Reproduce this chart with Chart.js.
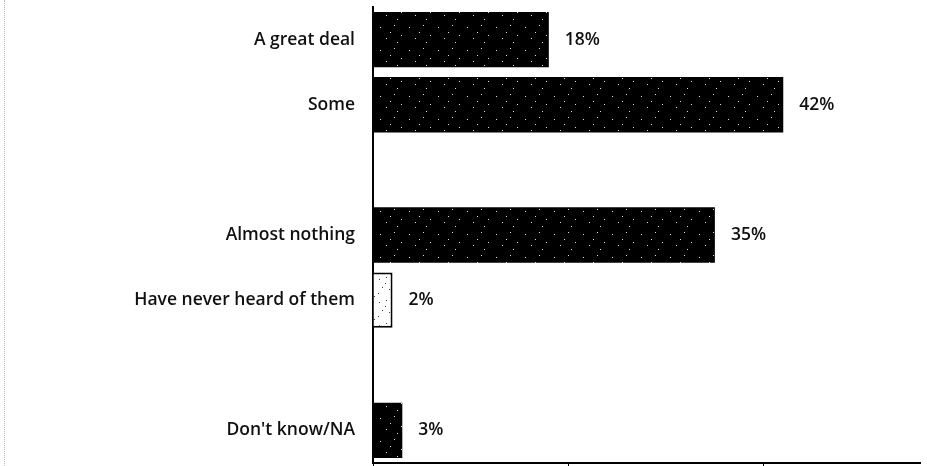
<!DOCTYPE html>
<html>
<head>
<meta charset="utf-8">
<script src="https://cdn.jsdelivr.net/npm/chart.js@4.4.1/dist/chart.umd.min.js"></script>
<style>
    html, body { margin: 0; padding: 0; background: #fff; }
    #wrap { position: relative; width: 927px; height: 466px; }
    #edge { position: absolute; left: 4px; top: 0; height: 466px; border-left: 1px dotted #bbb; }
    canvas { display: block; }
</style>
</head>
<body>
<div id="wrap">
    <div id="edge"></div>
    <canvas id="chartAwareness" width="927" height="466"></canvas>
</div>
<script>
// data (empty strings are the gaps between groups)
const categories = ['A great deal', 'Some', '', 'Almost nothing', 'Have never heard of them', '', "Don't know/NA"];
const values = [18, 42, null, 35, 2, null, 3];
const xTicks = [0, 20, 40];

document.addEventListener('DOMContentLoaded', function () {
    // speckled fill like the scanned bars
    function makeSpeckle(bg, dot, dots) {
        const c = document.createElement('canvas');
        c.width = 29; c.height = 23;
        const g = c.getContext('2d');
        g.fillStyle = bg;
        g.fillRect(0, 0, c.width, c.height);
        g.fillStyle = dot;
        dots.forEach(d => g.fillRect(d[0], d[1], 1, 1));
        return document.getElementById('chartAwareness').getContext('2d').createPattern(c, 'repeat');
    }
    const darkFill = makeSpeckle('#000', '#ddd', [[3, 4], [17, 2], [24, 12], [9, 15], [20, 19], [13, 9]]);
    const lightFill = makeSpeckle('#fff', '#444', [[2, 3], [9, 1], [15, 6], [5, 11], [12, 13], [18, 17], [1, 17], [8, 7], [22, 9], [26, 20], [24, 3]]);

    const valueLabels = {
        id: 'valueLabels',
        afterDatasetsDraw(chart) {
            const ctx = chart.ctx;
            const meta = chart.getDatasetMeta(0);
            ctx.save();
            ctx.font = '600 17.5px "Open Sans", Lato, sans-serif';
            ctx.fillStyle = '#111';
            ctx.textBaseline = 'middle';
            meta.data.forEach((bar, i) => {
                if (values[i] == null) return;
                ctx.fillText(values[i] + '%', bar.x + 16, bar.y);
            });
            ctx.restore();
        }
    };

    const ctx = document.getElementById('chartAwareness').getContext('2d');
    new Chart(ctx, {
        type: 'bar',
        data: {
            labels: categories,
            datasets: [{
                data: values,
                backgroundColor: values.map((v, i) => i === 4 ? lightFill : darkFill),
                borderColor: '#000',
                borderWidth: values.map((v, i) => i === 4 ? 2 : 0),
                barPercentage: 0.85,
                categoryPercentage: 1
            }]
        },
        options: {
            indexAxis: 'y',
            responsive: false,
            animation: false,
            layout: { padding: { top: 7, right: 7, left: 0, bottom: 0 } },
            plugins: { legend: { display: false }, tooltip: { enabled: false } },
            scales: {
                x: {
                    min: 0,
                    max: 56,
                    afterBuildTicks: s => { s.ticks = xTicks.map(v => ({ value: v })); },
                    afterFit: s => { s.height = 3; s.paddingLeft = 0; s.paddingRight = 0; },
                    ticks: { display: false },
                    grid: { drawOnChartArea: false, drawTicks: true, tickLength: 3, color: '#000' },
                    border: { display: true, color: '#000', width: 2 }
                },
                y: {
                    afterFit: s => { s.width = 373; s.paddingTop = 0; s.paddingBottom = 0; },
                    ticks: {
                        padding: 10,
                        color: '#111',
                        font: { family: '"Open Sans", Lato, sans-serif', size: 17.5, weight: '600' }
                    },
                    grid: { display: false },
                    border: { display: true, color: '#000', width: 2 }
                }
            }
        },
        plugins: [valueLabels]
    });
});
</script>
</body>
</html>
